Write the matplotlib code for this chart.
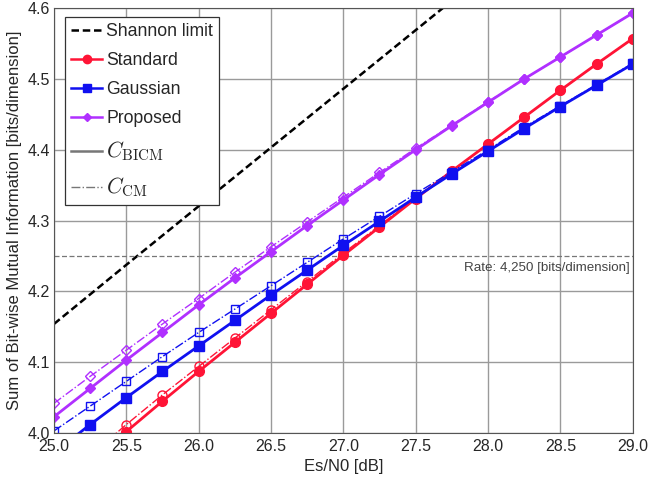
import numpy as np
import matplotlib
matplotlib.use("Agg")
import matplotlib.pyplot as plt
from matplotlib.lines import Line2D

plt.rcParams['font.family'] = ['Liberation Sans', 'DejaVu Sans']
plt.rcParams['mathtext.fontset'] = 'cm'

snr = [25.0, 25.25, 25.5, 25.75, 26.0, 26.25, 26.5, 26.75, 27.0, 27.25, 27.5, 27.75, 28.0, 28.25, 28.5, 28.75, 29.0]

std_bicm = [3.915, 3.958, 4.002, 4.045, 4.087, 4.128, 4.169, 4.210, 4.251, 4.291, 4.331, 4.370, 4.408, 4.446, 4.484, 4.521, 4.557]
std_cm   = [3.925, 3.968, 4.012, 4.054, 4.094, 4.134, 4.174, 4.214, 4.254, 4.293, 4.332, 4.370, 4.408, 4.446, 4.484, 4.521, 4.557]
gau_bicm = [3.972, 4.012, 4.050, 4.087, 4.123, 4.159, 4.195, 4.230, 4.265, 4.299, 4.333, 4.366, 4.398, 4.430, 4.461, 4.491, 4.521]
gau_cm   = [4.003, 4.038, 4.073, 4.108, 4.142, 4.175, 4.208, 4.241, 4.274, 4.306, 4.338, 4.369, 4.400, 4.432, 4.462, 4.492, 4.522]
pro_bicm = [4.023, 4.063, 4.103, 4.142, 4.181, 4.219, 4.256, 4.293, 4.329, 4.365, 4.400, 4.434, 4.467, 4.500, 4.531, 4.562, 4.593]
pro_cm   = [4.042, 4.080, 4.117, 4.154, 4.190, 4.227, 4.263, 4.298, 4.333, 4.368, 4.402, 4.435, 4.468, 4.500, 4.531, 4.562, 4.593]

shannon_snr = [25.0, 25.5, 26.0, 26.5, 27.0, 27.5, 28.0]
shannon_val = [4.154, 4.2375, 4.3203, 4.4032, 4.4861, 4.5689, 4.6519]

rate = 4.25

RED = '#ff1436'
BLUE = '#1010f0'
PURPLE = '#b030ff'
TXT = '#262626'

fig = plt.figure(figsize=(6.66, 4.78), dpi=100)
ax = fig.add_axes([0.081, 0.094, 0.869, 0.889])

ax.grid(True, color='#9a9a9a', linewidth=1.0)
ax.set_axisbelow(True)

ax.plot(shannon_snr, shannon_val, color='black', linestyle=(0, (3, 1.5)), linewidth=1.8)

ax.axhline(rate, color='#777777', linestyle=(0, (4, 2)), linewidth=0.9)
ax.text(28.98, rate - 0.008, 'Rate: 4,250 [bits/dimension]', ha='right', va='top',
        fontsize=9.6, color='#444444')

for y_bicm, y_cm, c, m, ms in [(std_bicm, std_cm, RED, 'o', 6.5),
                                (gau_bicm, gau_cm, BLUE, 's', 6),
                                (pro_bicm, pro_cm, PURPLE, 'D', 5)]:
    ax.plot(snr, y_cm, color=c, linestyle='-.', linewidth=1.0, marker=m,
            markersize=ms, markerfacecolor='none', markeredgewidth=1.0)
    ax.plot(snr, y_bicm, color=c, linestyle='-', linewidth=2.0, marker=m,
            markersize=ms + 0.5)

ax.set_xlim(25, 29)
ax.set_ylim(4.0, 4.6)
ax.set_xticks(np.arange(25, 29.01, 0.5))
ax.set_yticks(np.arange(4.0, 4.61, 0.1))
ax.xaxis.set_major_formatter(matplotlib.ticker.FormatStrFormatter('%.1f'))
ax.yaxis.set_major_formatter(matplotlib.ticker.FormatStrFormatter('%.1f'))
ax.tick_params(labelsize=11.5, length=0, pad=3, labelcolor=TXT)
ax.tick_params(axis='x', pad=4)
for s in ax.spines.values():
    s.set_color('#555555')
    s.set_linewidth(0.8)

ax.set_xlabel('Es/N0 [dB]', fontsize=12, color=TXT)
ax.set_ylabel('Sum of Bit-wise Mutual Information [bits/dimension]', fontsize=12, color=TXT)

handles = [
    Line2D([], [], color='black', linestyle=(0, (3, 1.5)), linewidth=1.8),
    Line2D([], [], color=RED, linewidth=1.8, marker='o', markersize=6),
    Line2D([], [], color=BLUE, linewidth=1.8, marker='s', markersize=5.5),
    Line2D([], [], color=PURPLE, linewidth=1.8, marker='D', markersize=4.5),
    Line2D([], [], color='#777777', linewidth=1.8),
    Line2D([], [], color='#777777', linewidth=1.0, linestyle='-.'),
]
labels = ['Shannon limit', 'Standard', 'Gaussian', 'Proposed',
          r'$C_{\mathrm{BICM}}$', r'$C_{\mathrm{CM}}$']
leg = ax.legend(handles, labels, loc='upper left', fontsize=12.7, fancybox=False,
                framealpha=1, edgecolor='#333333', handlelength=1.75,
                handletextpad=0.25, borderpad=0.35, labelspacing=0.68,
                borderaxespad=0, bbox_to_anchor=(0.019, 0.979))
for i, t in enumerate(leg.get_texts()):
    t.set_color(TXT)
    if i >= 4:
        t.set_fontsize(15.5)
leg.get_frame().set_linewidth(0.9)

fig.savefig('out.png', dpi=100)
